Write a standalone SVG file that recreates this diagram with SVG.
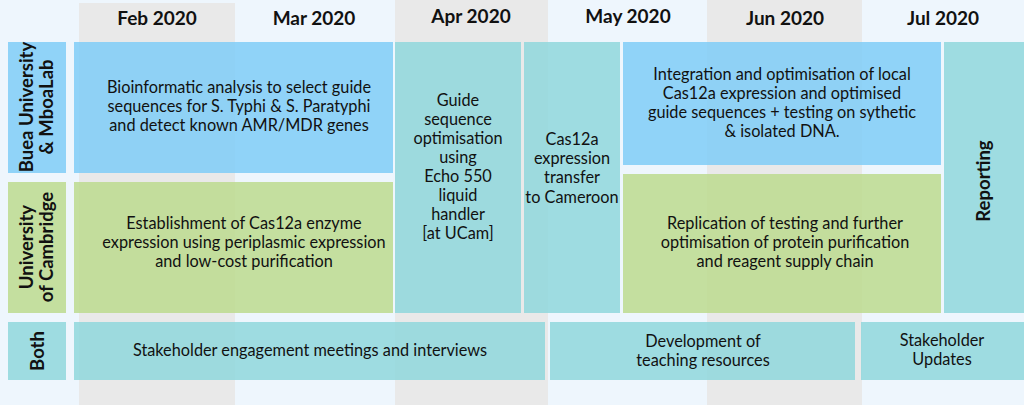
<svg xmlns="http://www.w3.org/2000/svg" width="1024" height="405" viewBox="0 0 1024 405">
<style>
text{font-family:Lato,"Noto Sans",sans-serif;fill:#111;text-anchor:middle}
.h{font-size:19px;font-weight:bold}
.t{font-size:16.3px}
.r{font-size:18.5px;font-weight:bold}
.b{fill:#7fcdf7;fill-opacity:0.85}
.g{fill:#bcdb8e;fill-opacity:0.85}
.c{fill:#8fd7dc;fill-opacity:0.85}
.gr{fill:#e9e9e9}
</style>
<rect width="1024" height="405" fill="#eef6fd"/>
<g id="columns">
<rect class="gr" x="79" y="3" width="156" height="402"/>
<rect class="gr" x="395" y="0" width="153" height="405"/>
<rect class="gr" x="707" y="0" width="155" height="405"/>
</g>
<g id="headers">
<text class="h" x="157" y="25">Feb 2020</text>
<text class="h" x="314" y="25">Mar 2020</text>
<text class="h" x="471" y="23">Apr 2020</text>
<text class="h" x="628" y="23">May 2020</text>
<text class="h" x="785" y="25">Jun 2020</text>
<text class="h" x="943" y="25">Jul 2020</text>
</g>
<g id="row-buea"><rect class="b" x="8" y="42" width="58" height="131"/>
<text class="r" transform="translate(33,107) rotate(-90)">Buea University</text>
<text class="r" transform="translate(53,107) rotate(-90)">&amp; MboaLab</text></g>
<g id="row-cam"><rect class="g" x="8" y="182" width="58" height="131"/>
<text class="r" transform="translate(33,247) rotate(-90)">University</text>
<text class="r" transform="translate(53,247) rotate(-90)">of Cambridge</text></g>
<g id="row-both"><rect class="c" x="8" y="322" width="58" height="58"/>
<text class="r" transform="translate(44,351) rotate(-90)">Both</text></g>
<g id="bioinf"><rect class="b" x="74" y="42" width="319" height="131"/>
<text class="t" x="239" y="93">Bioinformatic analysis to select guide</text>
<text class="t" x="239" y="112">sequences for S. Typhi &amp; S. Paratyphi</text>
<text class="t" x="239" y="131">and detect known AMR/MDR genes</text></g>
<g id="estab"><rect class="g" x="74" y="182" width="319" height="131"/>
<text class="t" x="244" y="229">Establishment of Cas12a enzyme</text>
<text class="t" x="244" y="248">expression using periplasmic expression</text>
<text class="t" x="244" y="267">and low-cost purification</text></g>
<g id="guide"><rect class="c" x="395" y="42" width="126" height="271"/>
<text class="t" x="458" y="106">Guide</text>
<text class="t" x="458" y="125">sequence</text>
<text class="t" x="458" y="144">optimisation</text>
<text class="t" x="458" y="163">using</text>
<text class="t" x="458" y="182">Echo 550</text>
<text class="t" x="458" y="201">liquid</text>
<text class="t" x="458" y="220">handler</text>
<text class="t" x="458" y="239">[at UCam]</text></g>
<g id="transfer"><rect class="c" x="524" y="42" width="96" height="271"/>
<text class="t" x="572" y="145">Cas12a</text>
<text class="t" x="572" y="164">expression</text>
<text class="t" x="572" y="183">transfer</text>
<text class="t" x="572" y="203">to Cameroon</text></g>
<g id="integ"><rect class="b" x="623" y="42" width="318" height="123"/>
<text class="t" x="782" y="80">Integration and optimisation of local</text>
<text class="t" x="782" y="99">Cas12a expression and optimised</text>
<text class="t" x="782" y="118">guide sequences + testing on sythetic</text>
<text class="t" x="782" y="137">&amp; isolated DNA.</text></g>
<g id="replic"><rect class="g" x="623" y="174" width="318" height="139"/>
<text class="t" x="785" y="229">Replication of testing and further</text>
<text class="t" x="785" y="248">optimisation of protein purification</text>
<text class="t" x="785" y="267">and reagent supply chain</text></g>
<g id="report"><rect class="c" x="944" y="42" width="80" height="271"/>
<text class="r" transform="translate(990,181) rotate(-90)">Reporting</text></g>
<g id="stake"><rect class="c" x="74" y="322" width="471" height="58"/>
<text class="t" x="310" y="356">Stakeholder engagement meetings and interviews</text></g>
<g id="dev"><rect class="c" x="550" y="322" width="305" height="58"/>
<text class="t" x="703" y="347">Development of</text>
<text class="t" x="703" y="366">teaching resources</text></g>
<g id="upd"><rect class="c" x="861" y="322" width="163" height="58"/>
<text class="t" x="942" y="346">Stakeholder</text>
<text class="t" x="942" y="365">Updates</text></g>
<g id="connectors"/>
</svg>
